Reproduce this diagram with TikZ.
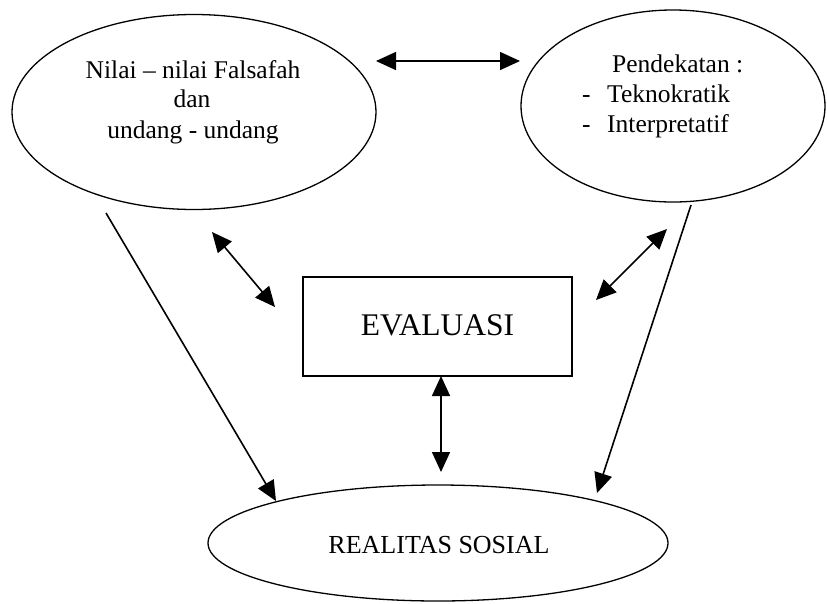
\documentclass[tikz,border=0pt]{standalone}
\usepackage{fontspec}
\setmainfont{Liberation Serif}
\usetikzlibrary{shapes.geometric,arrows.meta}
\begin{document}
\begin{tikzpicture}[x=1pt,y=-1pt,
  shape line/.style={draw=black,line width=1.3pt,inner sep=0pt,outer sep=0pt},
  oval/.style={shape line,ellipse},
  conn/.style={line width=1.6pt,-{Triangle[length=20pt,width=18pt]}},
  biconn/.style={line width=1.6pt,{Triangle[length=20pt,width=18pt]}-{Triangle[length=20pt,width=18pt]}},
  txt/.style={inner sep=0pt,anchor=base},
  txtl/.style={inner sep=0pt,anchor=base west}]
\useasboundingbox (0,0) rectangle (827,603);
% shapes
\node[oval,minimum width=364pt,minimum height=195pt] (L) at (194,112) {};
\node[oval,minimum width=304pt,minimum height=192pt] (R) at (673,106) {};
\node[oval,minimum width=460pt,minimum height=116pt] (B) at (438,543) {};
\node[shape line,line width=1.2pt,minimum width=269pt,minimum height=99pt] (E) at (437.5,326.5) {};
% texts
\node[txt,font=\fontsize{25.5}{30}\selectfont] (l1) at (193,78) {Nilai -- nilai Falsafah};
\node[txt,font=\fontsize{25.5}{30}\selectfont] (l2) at (192,107) {dan};
\node[txt,font=\fontsize{25.5}{30}\selectfont] (l3) at (193,138) {undang - undang};
\node[txtl,font=\fontsize{25.5}{30}\selectfont] (r1) at (612,72) {Pendekatan :};
\node[txtl,font=\fontsize{25.5}{30}\selectfont] (r2) at (582,102) {\makebox[25pt][l]{-}Teknokratik};
\node[txtl,font=\fontsize{25.5}{30}\selectfont] (r3) at (582,132) {\makebox[25pt][l]{-}Interpretatif};
\node[txt,font=\fontsize{31.5}{36}\selectfont] (et) at (437.5,335) {EVALUASI};
\node[txt,font=\fontsize{26}{30}\selectfont] (bt) at (439,553) {REALITAS SOSIAL};
% arrow end points
\coordinate (ta1) at (376,61);
\coordinate (ta2) at (520,61);
\coordinate (la1) at (212,232);
\coordinate (la2) at (275,307);
\coordinate (ra1) at (667,229);
\coordinate (ra2) at (596,300);
\coordinate (va1) at (441,376);
\coordinate (va2) at (441,472);
\coordinate (ll1) at (106,213);
\coordinate (ll2) at (276,501);
\coordinate (rl1) at (691,205);
\coordinate (rl2) at (597,493);
% connectors
\draw[biconn] (ta1) -- (ta2);
\draw[biconn] (la1) -- (la2);
\draw[biconn] (ra1) -- (ra2);
\draw[biconn] (va1) -- (va2);
\draw[conn] (ll1) -- (ll2);
\draw[conn] (rl1) -- (rl2);
\end{tikzpicture}
\end{document}
